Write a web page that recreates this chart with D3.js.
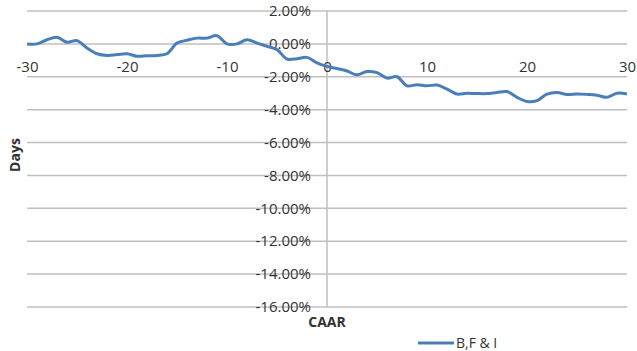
<!DOCTYPE html>
<html>
<head>
<meta charset="utf-8">
<script src="https://cdn.jsdelivr.net/npm/d3@7"></script>
<style>
  html, body { margin: 0; padding: 0; background: #fff; }
  svg { display: block; }
  text { font-family: "Open Sans", "Liberation Sans", sans-serif; fill: #333; }
</style>
</head>
<body>
<svg id="chart" width="637" height="351"></svg>
<script>
// Event window (days relative to the event)
const days = d3.range(-30, 31);
// Cumulative average abnormal return, in percent
const caar = [
  0.00, 0.00, 0.25, 0.40, 0.10, 0.20, -0.25, -0.60, -0.70, -0.65,
  -0.60, -0.75, -0.72, -0.70, -0.60, 0.05, 0.22, 0.35, 0.35, 0.50,
  0.00, 0.00, 0.25, 0.05, -0.15, -0.35, -0.92, -0.90, -0.82, -1.15,
  -1.37, -1.50, -1.65, -1.88, -1.68, -1.75, -2.08, -2.00, -2.55, -2.48,
  -2.55, -2.50, -2.75, -3.05, -3.00, -3.02, -3.02, -2.95, -2.90, -3.25,
  -3.50, -3.45, -3.05, -2.95, -3.08, -3.05, -3.07, -3.12, -3.25, -3.00,
  -3.05
];
const xTicks = [-30, -20, -10, 0, 10, 20, 30];
const yTicks = [2, 0, -2, -4, -6, -8, -10, -12, -14, -16];
const seriesName = "B,F & I";
const xTitle = "CAAR";
const yTitle = "Days";

// number formatting with a plain hyphen for negatives
const locale = d3.formatLocale({ decimal: ".", thousands: ",", grouping: [3], currency: ["", ""], minus: "-" });
const fmtPct = d => locale.format(".2f")(d) + "%";
const fmtDay = locale.format("d");

const svg = d3.select("#chart");
const x = d3.scaleLinear().domain([-30, 30]).range([27, 627]);
const y = d3.scaleLinear().domain([2, -16]).range([11, 307]);

// Horizontal gridlines
svg.append("g").selectAll("line").data(yTicks).join("line")
  .attr("x1", x.range()[0]).attr("x2", x.range()[1])
  .attr("y1", d => y(d)).attr("y2", d => y(d))
  .attr("stroke", "#bfbfbf").attr("stroke-width", 1.5);

// Percentage labels, placed left of the zero-day axis
svg.append("g").selectAll("text").data(yTicks).join("text")
  .attr("x", x(0) - 16)
  .attr("y", d => y(d))
  .attr("dy", "0.35em")
  .attr("text-anchor", "end")
  .style("font-size", "15px")
  .text(fmtPct);

// Vertical axis at day 0
svg.append("line")
  .attr("x1", x(0)).attr("x2", x(0))
  .attr("y1", y(2)).attr("y2", y(-16))
  .attr("stroke", "#bfbfbf").attr("stroke-width", 1.5);

// Day labels just below the zero line
const xAxis = d3.axisBottom(x).tickValues(xTicks).tickSize(0).tickFormat(fmtDay);
const gx = svg.append("g").attr("transform", `translate(0,${y(0)})`).call(xAxis);
gx.select(".domain").remove();
gx.selectAll("text")
  .attr("y", 23)
  .attr("dy", "0.35em")
  .style("font-size", "15px")
  .style("font-family", "'Open Sans', sans-serif")
  .attr("fill", "#333");

// CAAR series
const line = d3.line()
  .x((d, i) => x(days[i]))
  .y(d => y(d))
  .curve(d3.curveCatmullRom.alpha(0.5));
svg.append("path")
  .datum(caar)
  .attr("fill", "none")
  .attr("stroke", "#4a7ebb")
  .attr("stroke-width", 3)
  .attr("stroke-linejoin", "round")
  .attr("d", line);

// Axis titles
svg.append("text")
  .attr("transform", `translate(15,155) rotate(-90)`)
  .attr("text-anchor", "middle")
  .attr("dy", "0.35em")
  .style("font-size", "14px").style("font-weight", "bold")
  .text(yTitle);
svg.append("text")
  .attr("x", x(0)).attr("y", 322)
  .attr("text-anchor", "middle")
  .attr("dy", "0.35em")
  .style("font-size", "14px").style("font-weight", "bold")
  .text(xTitle);

// Legend
const lg = svg.append("g").attr("transform", "translate(418,343)");
lg.append("line").attr("x1", 0).attr("x2", 36).attr("y1", 0).attr("y2", 0)
  .attr("stroke", "#4a7ebb").attr("stroke-width", 3);
lg.append("text").attr("x", 38).attr("y", 0).attr("dy", "0.35em")
  .style("font-size", "14px").text(seriesName);
</script>
</body>
</html>
